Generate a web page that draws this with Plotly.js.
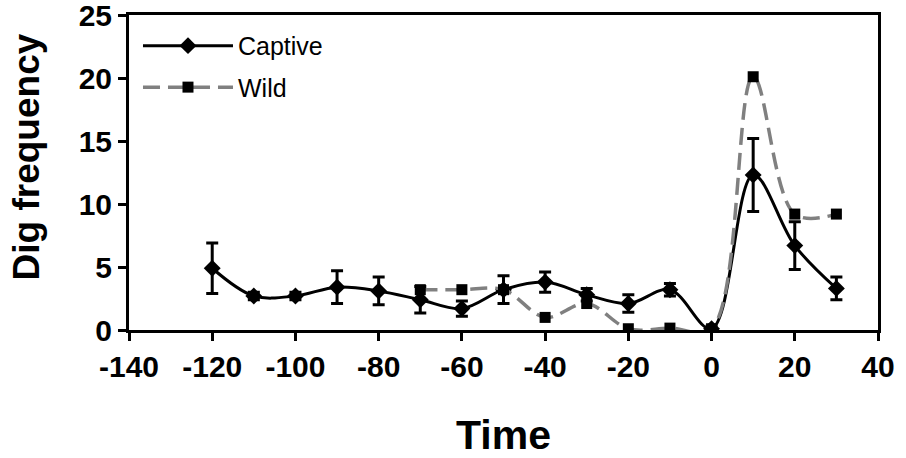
<!DOCTYPE html>
<html>
<head>
<meta charset="utf-8">
<script src="https://cdn.plot.ly/plotly-3.0.1.min.js"></script>
<style>html,body{margin:0;padding:0;background:#fff;}#chart{width:906px;height:458px;}</style>
</head>
<body>
<div id="chart"></div>
<script>
// Data
const captiveTime = [-120, -110, -100, -90, -80, -70, -60, -50, -40, -30, -20, -10, 0, 10, 20, 30];
const captiveFreq = [4.9, 2.7, 2.7, 3.4, 3.1, 2.4, 1.7, 3.2, 3.8, 2.8, 2.1, 3.2, 0.1, 12.3, 6.7, 3.3];
const captiveErr  = [2.0, 0.3, 0.3, 1.3, 1.1, 1.05, 0.6, 1.1, 0.8, 0.5, 0.7, 0.5, 0.2, 2.9, 1.9, 0.9];
const wildTime = [-70, -60, -50, -40, -30, -20, -10, 0, 10, 20, 30];
const wildFreq = [3.2, 3.2, 3.2, 1.0, 2.1, 0.1, 0.15, 0.1, 20.1, 9.2, 9.2];
const xTicks = [-140, -120, -100, -80, -60, -40, -20, 0, 20, 40];
const yTicks = [0, 5, 10, 15, 20, 25];

const FONT = 'Liberation Sans, Arial, sans-serif';

const traces = [
  {
    x: captiveTime, y: captiveFreq, name: 'Captive', type: 'scatter', mode: 'lines+markers',
    legendgroup: 'c',
    line: {color: '#000000', width: 3, shape: 'spline', smoothing: 1},
    marker: {symbol: 'diamond', size: 13, color: '#000000'},
    error_y: {type: 'data', array: captiveErr, visible: true, color: '#000000', thickness: 3, width: 6}
  },
  {
    x: wildTime, y: wildFreq, name: 'Wild', type: 'scatter', mode: 'lines+markers',
    legendgroup: 'w',
    line: {color: '#808080', width: 3.5, dash: '17px,8px', shape: 'spline', smoothing: 1},
    marker: {symbol: 'square', size: 11, color: '#000000'}
  }
];

const layout = {
  width: 906, height: 458,
  margin: {l: 129, r: 28, t: 15, b: 128},
  paper_bgcolor: '#ffffff', plot_bgcolor: '#ffffff',
  showlegend: true,
  legend: {
    x: 0.012, y: 0.975, xanchor: 'left', yanchor: 'top',
    traceorder: 'grouped',
    font: {family: FONT, size: 25, color: '#000'},
    bgcolor: 'rgba(0,0,0,0)', itemwidth: 90, tracegroupgap: 6
  },
  xaxis: {
    range: [-140, 40], tickvals: xTicks, ticktext: xTicks.map(String),
    showgrid: false, zeroline: false,
    showline: true, linecolor: '#000', linewidth: 3, mirror: true,
    ticks: 'outside', ticklen: 8, tickwidth: 3, tickcolor: '#000',
    ticklabelstandoff: 0, ticklabeloverflow: 'allow',
    tickfont: {family: FONT, size: 30, color: '#000', weight: 'bold'},
    title: {text: '<b>Time</b>', font: {family: FONT, size: 41, color: '#000'}, standoff: 49}
  },
  yaxis: {
    range: [0, 25], tickvals: yTicks, ticktext: yTicks.map(String),
    showgrid: false, zeroline: false,
    showline: true, linecolor: '#000', linewidth: 3, mirror: true,
    ticks: 'outside', ticklen: 8, tickwidth: 3, tickcolor: '#000',
    ticklabelstandoff: 0, ticklabeloverflow: 'allow',
    tickfont: {family: FONT, size: 30, color: '#000', weight: 'bold'},
    title: {text: '<b>&nbsp;&nbsp;&nbsp;Dig frequency</b>', font: {family: FONT, size: 37, color: '#000'}, standoff: 28}
  }
};

Plotly.newPlot('chart', traces, layout, {displayModeBar: false, staticPlot: true});
</script>
</body>
</html>
